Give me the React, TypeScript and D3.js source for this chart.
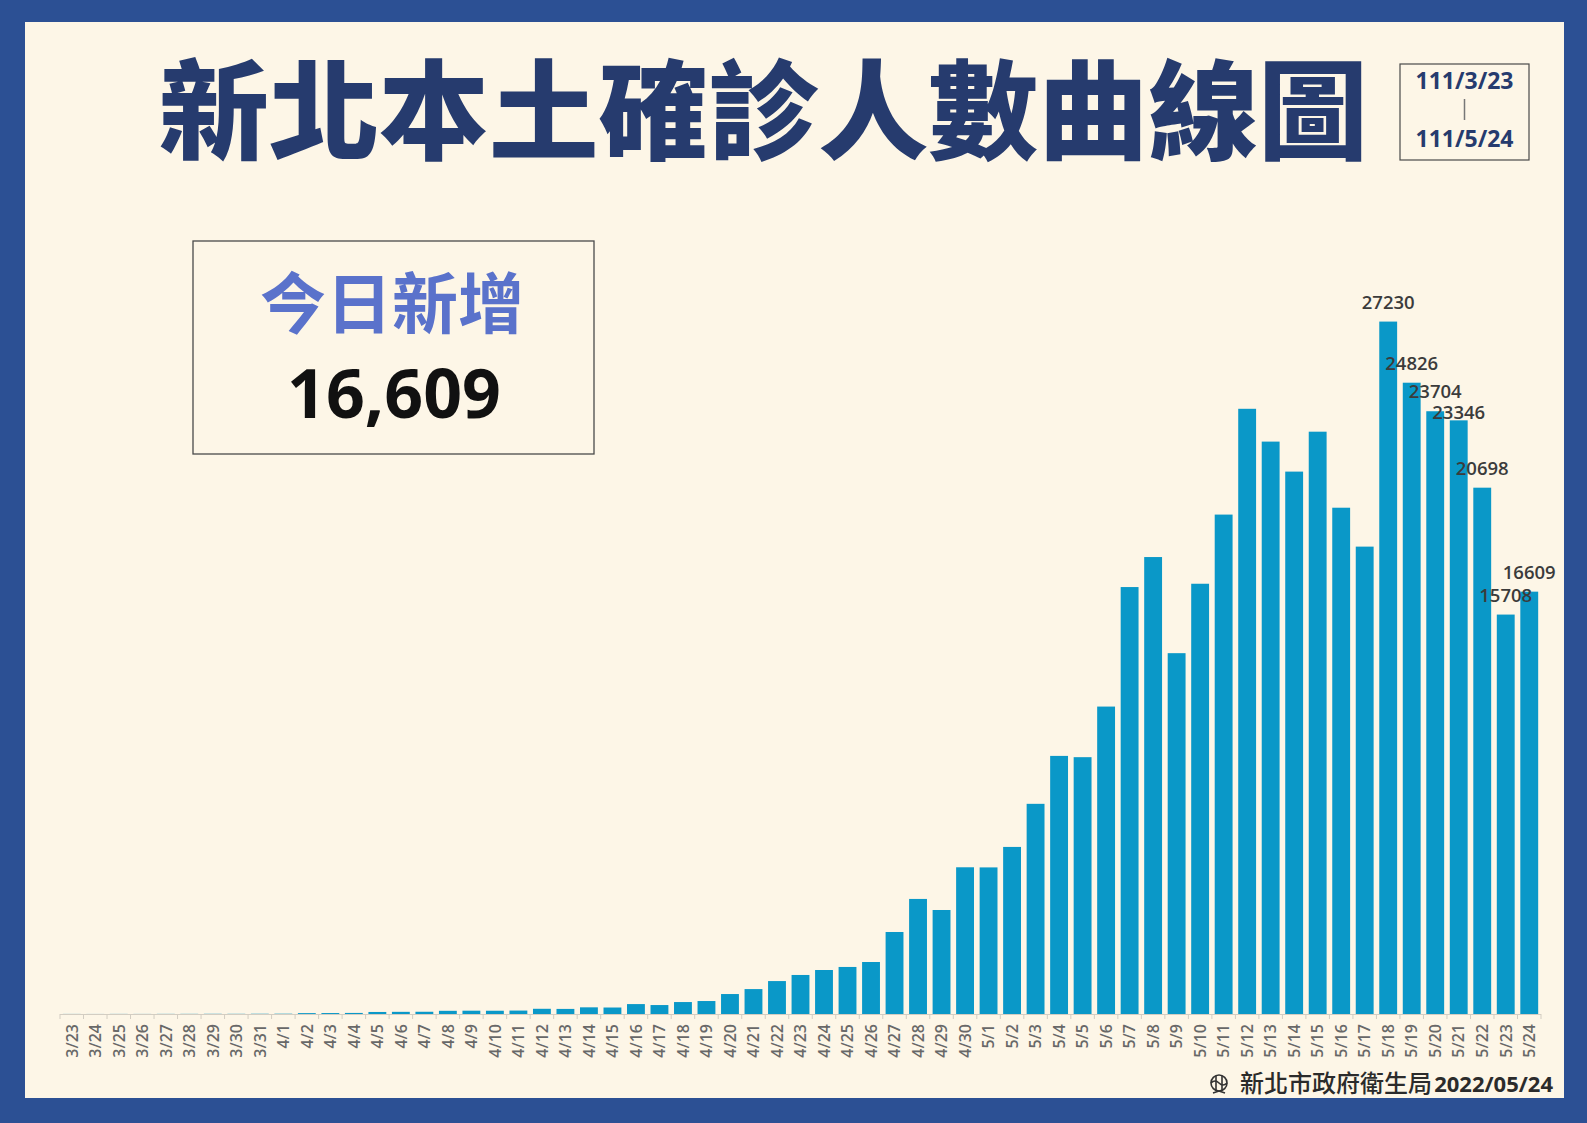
import * as d3 from "d3";

const W = 1587;
const H = 1123;

const dates = [
  "3/23", "3/24", "3/25", "3/26", "3/27", "3/28", "3/29", "3/30", "3/31",
  "4/1", "4/2", "4/3", "4/4", "4/5", "4/6", "4/7", "4/8", "4/9", "4/10",
  "4/11", "4/12", "4/13", "4/14", "4/15", "4/16", "4/17", "4/18", "4/19", "4/20",
  "4/21", "4/22", "4/23", "4/24", "4/25", "4/26", "4/27", "4/28", "4/29", "4/30",
  "5/1", "5/2", "5/3", "5/4", "5/5", "5/6", "5/7", "5/8", "5/9", "5/10",
  "5/11", "5/12", "5/13", "5/14", "5/15", "5/16", "5/17", "5/18", "5/19", "5/20",
  "5/21", "5/22", "5/23", "5/24",
];

// daily local cases
const cases = [
  3, 2, 4, 3, 5, 6, 8, 7, 10,
  12, 35, 38, 42, 80, 85, 88, 125, 130, 128,
  135, 205, 200, 262, 255, 390, 352, 470, 510, 785,
  980, 1295, 1535, 1730, 1850, 2045, 3225, 4525, 4090, 5770,
  5765, 6570, 8265, 10150, 10100, 12090, 16790, 17970, 14190, 16920,
  19640, 23800, 22510, 21330, 22900, 19910, 18380, 27230, 24826, 23704,
  23346, 20698, 15708, 16609,
];

const labelledDates = ["5/18", "5/19", "5/20", "5/21", "5/22", "5/23", "5/24"];

const title = "新北本土確診人數曲線圖";
const rangeStart = "111/3/23";
const rangeEnd = "111/5/24";
const todayLabel = "今日新增";
const todayValue = 16609;
const footerOrg = "新北市政府衛生局";
const footerDate = "2022/05/24";

const BG = "#fdf6e7";
const FRAME = "#2c5094";
const NAVY = "#263b6e";
const BAR = "#0a98c8";

const plot = { left: 60, right: 1541, base: 1014, top: 302 };

export default function App() {
  const x = d3
    .scaleBand<string>()
    .domain(dates)
    .range([plot.left, plot.right])
    .paddingInner(0.24)
    .paddingOuter(0.12);
  const y = d3.scaleLinear().domain([0, 28000]).range([plot.base, plot.top]);
  const step = x.step();
  const bw = x.bandwidth();
  const tickXs = d3.range(dates.length + 1).map((i) => plot.left + i * step);
  const fmt = d3.format(",");

  const cjk = "'Noto Sans CJK TC', 'Noto Sans CJK SC', sans-serif";
  const latin = "'Open Sans', 'Noto Sans', sans-serif";

  // value labels sit above their bar; one that would collide with the
  // previous label while its bar is lower gets pushed under it
  const lineH = 21;
  const valueLabels: { d: string; v: number; ly: number }[] = [];
  labelledDates.forEach((d) => {
    const v = cases[dates.indexOf(d)];
    let ly = y(v) - 13;
    const prev = valueLabels[valueLabels.length - 1];
    if (prev && ly > prev.ly - lineH && ly < prev.ly + lineH) ly = prev.ly + lineH;
    valueLabels.push({ d, v, ly });
  });

  return (
    <svg
      width={W}
      height={H}
      viewBox={`0 0 ${W} ${H}`}
      style={{ position: "absolute", left: 0, top: 0, display: "block" }}
    >
      <rect x={0} y={0} width={W} height={H} fill={FRAME} />
      <rect x={25} y={22} width={1539} height={1076} fill={BG} />

      {/* title */}
      <text
        x={159}
        y={151}
        textLength={1209}
        lengthAdjust="spacingAndGlyphs"
        fontFamily={cjk}
        fontWeight={900}
        fontSize={108}
        fill={NAVY}
      >
        {title}
      </text>

      {/* date range box */}
      <rect x={1400} y={64} width={129} height={96} fill="none" stroke="#4a4a4a" strokeWidth={1.2} />
      <text x={1464.5} y={89} textAnchor="middle" fontFamily={latin} fontWeight={700} fontSize={23} fill={NAVY}>
        {rangeStart}
      </text>
      <line x1={1464.5} x2={1464.5} y1={99} y2={120} stroke="#777" strokeWidth={1.5} />
      <text x={1464.5} y={147} textAnchor="middle" fontFamily={latin} fontWeight={700} fontSize={23} fill={NAVY}>
        {rangeEnd}
      </text>

      {/* today box */}
      <rect x={193} y={241} width={401} height={213} fill="none" stroke="#4a4a4a" strokeWidth={1.3} />
      <text x={392} y={328} textAnchor="middle" fontFamily={cjk} fontWeight={700} fontSize={66} fill="#5a72cb">
        {todayLabel}
      </text>
      <text x={394} y={418} textAnchor="middle" fontFamily={latin} fontWeight={700} fontSize={68} fill="#111">
        {fmt(todayValue)}
      </text>

      {/* bars */}
      <g>
        {dates.map((d, i) => (
          <rect
            key={d}
            x={x(d)}
            y={y(cases[i])}
            width={bw}
            height={plot.base - y(cases[i])}
            fill={BAR}
          />
        ))}
      </g>

      {/* axis */}
      <line x1={plot.left} x2={plot.right} y1={plot.base + 0.5} y2={plot.base + 0.5} stroke="#d3cdc2" strokeWidth={1} />
      {tickXs.map((tx, i) => (
        <line key={i} x1={tx} x2={tx} y1={plot.base} y2={plot.base + 5} stroke="#d3cdc2" strokeWidth={1} />
      ))}
      {dates.map((d) => (
        <text
          key={d}
          transform={`translate(${(x(d) ?? 0) + bw / 2},${plot.base + 10}) rotate(-90)`}
          textAnchor="end"
          dy="0.36em"
          fontFamily={latin}
          fontWeight={600}
          fontSize={16}
          fill="#686868"
        >
          {d}
        </text>
      ))}

      {/* value labels */}
      {valueLabels.map(({ d, v, ly }) => (
        <text
          key={d}
          x={(x(d) ?? 0) + bw / 2}
          y={ly}
          textAnchor="middle"
          fontFamily={latin}
          fontWeight={600}
          fontSize={18.5}
          fill="#3b3b3b"
        >
          {v}
        </text>
      ))}

      {/* footer */}
      <g transform="translate(1219,1083)" fill="none" stroke="#333" strokeWidth={1.6}>
        <circle r={8} />
        <line x1={-3} x2={-3} y1={-7} y2={7} />
        <line x1={3} x2={3} y1={-7} y2={7} />
        <path d="M-8,0 Q-4,-4 0,0 T8,0" />
        <path d="M-6,10 L0,8 L6,10" />
      </g>
      <text x={1432} y={1092} textAnchor="end" fontFamily={cjk} fontWeight={500} fontSize={24} fill="#2b2b2b">
        {footerOrg}
      </text>
      <text x={1553} y={1092} textAnchor="end" fontFamily={latin} fontWeight={700} fontSize={22} fill="#2b2b2b">
        {footerDate}
      </text>
    </svg>
  );
}
